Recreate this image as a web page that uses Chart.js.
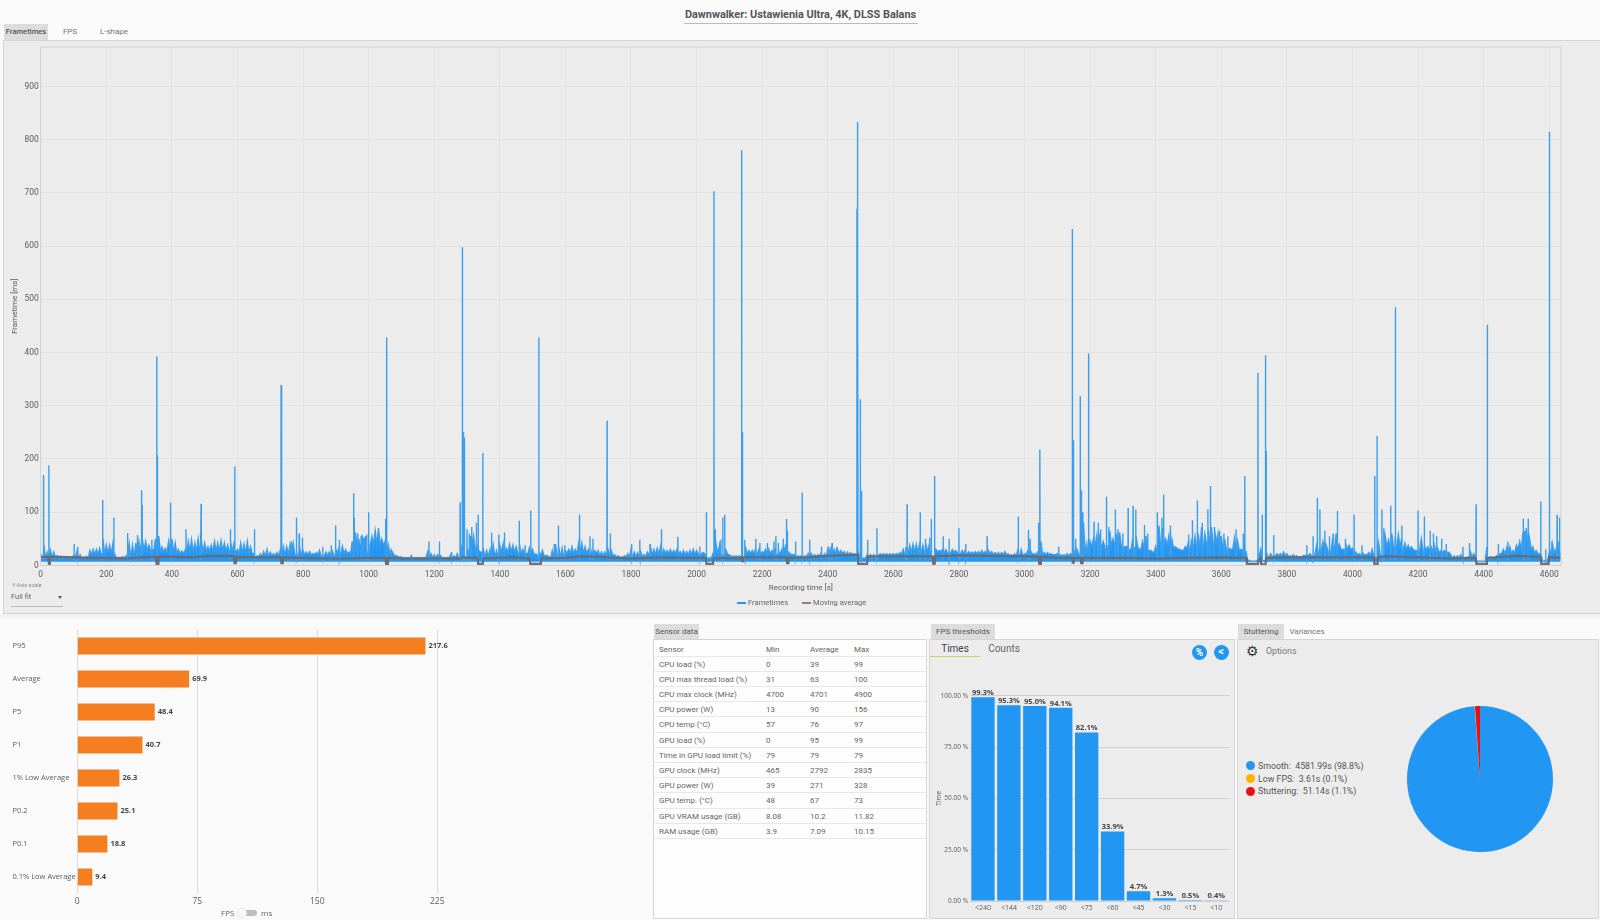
<!DOCTYPE html>
<html>
<head>
<meta charset="utf-8">
<title>Dawnwalker</title>
<script src="https://cdn.jsdelivr.net/npm/chart.js@4/dist/chart.umd.min.js"></script>
<style>
  html, body { margin: 0; padding: 0; }
  body { width: 1600px; height: 920px; overflow: hidden; position: relative; background: #fafafa; font-family: Roboto, sans-serif; color: #666; font-size: 8px; }
  .box { position: absolute; box-sizing: border-box; }
  .panel { background: #ececec; border: 1px solid #d4d4d4; }
  .tab { position: absolute; height: 15px; line-height: 15px; text-align: center; font-size: 8px; color: #777; }
  .tab.on { background: #dcdcdc; color: #555; }
  canvas { position: absolute; }
  .row { display: grid; grid-template-columns: 107px 44px 44px 1fr; height: 15.2px; line-height: 15px; box-sizing: border-box; border-bottom: 1px solid #e8e8e8; padding-left: 5px; }
</style>
</head>
<body>

<div class="box" style="left:0;top:8px;width:1601px;text-align:center;font-size:10.9px;font-weight:700;color:#555;line-height:14px">Dawnwalker: Ustawienia Ultra, 4K, DLSS Balans</div>
<div class="box" style="left:684px;top:22.5px;width:234px;height:1px;background:#bbb"></div>

<div class="tab on" style="left:4px;top:24px;width:44px;height:16px;line-height:16px;font-size:7.6px;font-weight:500">Frametimes</div>
<div class="tab" style="left:60px;top:24px;width:20px;height:16px;line-height:16px">FPS</div>
<div class="tab" style="left:98px;top:24px;width:32px;height:16px;line-height:16px">L-shape</div>

<div class="box panel" style="left:3px;top:40px;width:1600px;height:574px"></div>
<div class="box" style="left:0;top:614px;width:1600px;height:4px;background:#f1f1f1"></div>
<canvas id="frametimeChart" width="1600" height="574" style="left:0;top:40px"></canvas>
<div id="frametimeLegend"></div>

<div class="box" style="left:12px;top:582px;font-size:5.5px;color:#888">Y-Axis scale</div>
<div class="box" style="left:11px;top:592px;font-size:7.5px;color:#666">Full fit</div>
<div class="box" style="left:58px;top:596px;width:0;height:0;border-left:2.5px solid transparent;border-right:2.5px solid transparent;border-top:3px solid #555"></div>
<div class="box" style="left:11px;top:606px;width:52px;height:1px;background:#bbb"></div>

<canvas id="percentileChart" width="640" height="290" style="left:0;top:620px"></canvas>
<div class="box" style="left:221px;top:908px;font-size:8px;line-height:9px;font-family:'Open Sans',sans-serif">FPS</div>
<div class="box" style="left:243px;top:910px;width:14px;height:6px;border-radius:3px;background:#bdbdbd"></div>
<div class="box" style="left:237px;top:908px;width:10px;height:10px;border-radius:5px;background:#fafafa;border:1px solid #e4e4e4"></div>
<div class="box" style="left:261px;top:908px;font-size:8px;line-height:9px;font-family:'Open Sans',sans-serif">ms</div>

<div class="tab on" style="left:654px;top:624px;width:45px">Sensor data</div>
<div class="box" style="left:653px;top:639px;width:274px;height:280px;background:#fdfdfd;border:1px solid #d4d4d4"></div>
<div id="sensorTable" class="box" style="left:654px;top:641.5px;width:272px"></div>

<div class="tab on" style="left:931px;top:624px;width:64px">FPS thresholds</div>
<div class="box panel" style="left:929px;top:639px;width:306px;height:280px"></div>
<div class="box" style="left:930px;top:643px;width:50px;text-align:center;font-size:10px;line-height:12px;color:#444">Times</div>
<div class="box" style="left:980px;top:643px;width:48px;text-align:center;font-size:10px;line-height:12px;color:#666">Counts</div>
<div class="box" style="left:930px;top:655.5px;width:50px;height:1.5px;background:#c3d85f"></div>
<div class="box" style="left:1192px;top:644.5px;width:15px;height:15px;border-radius:8px;background:#2196f3;color:#fff;text-align:center;font-size:10px;line-height:15px;font-weight:700">%</div>
<div class="box" style="left:1213.5px;top:644.5px;width:15px;height:15px;border-radius:8px;background:#2196f3;color:#fff;text-align:center;font-size:11px;line-height:14px;font-weight:700">&lt;</div>
<canvas id="thresholdChart" width="304" height="258" style="left:930px;top:660px"></canvas>

<div class="tab on" style="left:1238px;top:624px;width:46px">Stuttering</div>
<div class="tab" style="left:1289px;top:624px;width:36px">Variances</div>
<div class="box panel" style="left:1237px;top:639px;width:362px;height:280px"></div>
<div class="box" style="left:1246px;top:643px;font-size:14px;line-height:16px;color:#333;font-family:'DejaVu Sans'">&#9881;</div>
<div class="box" style="left:1266px;top:645px;font-size:8.8px;line-height:12px;color:#777">Options</div>
<div id="stutterLegend" class="box" style="left:1246px;top:759.5px"></div>
<canvas id="stutterChart" width="148" height="148" style="left:1406px;top:705px"></canvas>

<script>
'use strict';

// ** FRAMETIME DATA **

const AXIS_SECONDS_MAX = 4636;
const AXIS_MS_MAX = 974;
const xTickSeconds = [0, 200, 400, 600, 800, 1000, 1200, 1400, 1600, 1800, 2000, 2200, 2400, 2600, 2800, 3000, 3200, 3400, 3600, 3800, 4000, 4200, 4400, 4600];
const BAND_FLOOR_MS = 7;

// tallest frametime in each 10 s of recording
const bandTopMs = [
  22, 42, 24, 28, 25, 18, 16, 15, 15, 16, 18, 25, 20, 15, 17, 28, 30, 30, 32, 50, 38, 38, 40, 15, 15, 16, 18,
  40, 38, 42, 45, 50, 45, 38, 30, 50, 55, 35, 32, 45, 50, 42, 30, 27, 28, 45, 48, 42, 50, 48, 42, 35, 38, 45, 42, 46, 42, 38, 45, 45,
  30, 42, 40, 45, 35, 22, 18, 22, 26, 30, 25, 22, 24, 28, 35, 35, 38, 42, 38, 35, 28, 25, 26, 22, 24, 28, 30, 25, 25, 26,
  32, 35, 36, 30, 25, 45, 62, 50, 58, 55, 62, 55, 65, 70, 50, 45, 38, 28, 18, 16, 16, 15, 15, 18, 15, 15, 15, 15, 25, 22, 20, 20, 18, 15, 15, 20, 18, 22,
  45, 60, 55, 55, 55, 45, 25, 30, 28, 30, 38, 28, 38, 40, 32, 40, 38, 35, 42, 30, 22, 32, 30, 22, 25, 28, 18, 16, 28, 40, 38, 32, 28, 30, 35, 30, 40, 42, 35, 30, 25, 28, 28, 25, 25, 30, 28, 20, 18, 16, 18, 22, 30, 25, 24, 25, 20, 25,
  35, 30, 32, 35, 30, 28, 30, 28, 30, 26, 28, 26, 28, 30, 28, 32, 24, 14, 14, 22, 38, 38, 40, 28, 20, 18, 18, 18, 45, 32, 28, 28, 32, 30, 26, 30, 30, 28, 32, 28, 30, 35, 25, 20, 20, 18, 18, 18, 22, 22, 20, 20, 24, 22,
  30, 32, 30, 30, 28, 26, 25, 24, 22, 30, 20, 14, 20, 20, 20, 24, 22, 22, 22, 22, 22, 22, 24, 30, 35, 38, 40, 40, 40, 38, 38, 40, 16, 30, 28, 30, 30, 28, 30,
  28, 32, 28, 30, 26, 25, 26, 26, 28, 26, 28, 26, 24, 24, 24, 26, 22, 20, 22, 30, 30, 22, 28, 26, 22, 25, 45, 24, 24, 22, 20, 22, 20, 20, 22, 22, 30, 30, 35, 80,
  40, 45, 50, 55, 60, 45, 60, 65, 50, 60, 62, 55, 35, 30, 50, 58, 30, 45, 55, 28, 25, 35, 75, 70, 50, 55, 48, 35, 30, 28, 35, 45, 50, 55, 60, 72, 60, 68, 72, 68, 60, 55, 50, 35, 30, 50, 45, 30, 45, 10, 8, 8, 10, 30, 8,
  20, 22, 30, 22, 22, 25, 22, 18, 20, 18, 16, 18, 20, 22, 30, 35, 32, 45, 38, 50, 52, 60, 40, 30, 42, 38, 32, 25, 22, 25, 20, 24, 30, 15, 42, 60, 55, 48, 60, 55, 58, 50, 42, 38, 35, 28, 60, 50, 38, 35, 35, 38, 32, 28, 28, 25, 20, 18, 18, 20, 15, 16, 25, 22, 8, 8, 8, 35, 16, 15, 18, 22, 30, 32, 35, 28, 38, 45, 62, 70, 50, 35, 28, 22, 8, 8, 25, 40, 30, 45
];

// height of the solid part of the band, per 50 s of recording
const bandCoreMs = [
  14, 13, 13, 20, 22, 14, 28, 25, 22, 25, 26, 26, 22, 16, 18, 20, 20, 18, 22, 30, 38, 22, 14, 14, 14, 14, 30, 16, 24, 22, 18,
  14, 22, 22, 18, 15, 16, 20, 22, 20, 22, 20, 16, 22, 22, 22, 16, 16, 22, 20, 13, 19, 20, 24, 26, 24, 22, 22, 20, 18, 20, 20,
  18, 22, 35, 38, 35, 32, 38, 32, 30, 42, 32, 28, 10, 18, 16, 18, 28, 30, 20, 18, 35, 30, 28, 24, 14, 16, 14, 22, 30, 22, 24
];

// single frame spikes standing above the band
const spikeSeconds = [
  8, 25, 102, 113, 189, 223, 265, 295, 307, 309, 339, 354, 356, 396, 443, 487, 489, 578, 592, 652, 733, 735, 764, 780, 788, 798, 860, 886, 899, 911,
  954, 956, 967, 977, 984, 994, 1000, 1052, 1055, 1068, 1131, 1184, 1216, 1253, 1279, 1286, 1289, 1292, 1300, 1307, 1314, 1328, 1334, 1348, 1375, 1397, 1414, 1459, 1477, 1494, 1519, 1566, 1578, 1598, 1642, 1644, 1675, 1684, 1727, 1737, 1802, 1827, 1858,
  1893, 1943, 2010, 2030, 2053, 2057, 2074, 2080, 2086, 2137, 2138, 2140, 2147, 2181, 2193, 2216, 2236, 2242, 2249, 2264, 2274, 2277, 2302, 2322, 2345, 2381, 2403, 2413, 2427, 2489, 2491, 2492, 2499, 2503, 2522, 2550, 2638, 2642, 2682, 2698, 2711, 2716, 2726, 2752, 2770,
  2800, 2821, 2886, 2981, 3012, 3017, 3043, 3047, 3104, 3146, 3149, 3156, 3170, 3173, 3178, 3195, 3196, 3212, 3225, 3232, 3250, 3257, 3277, 3285, 3300, 3316, 3331, 3339, 3366, 3376, 3405, 3419, 3424, 3445, 3501, 3512, 3527, 3542, 3559, 3567, 3579, 3595, 3608, 3620, 3645, 3667, 3672, 3712, 3725, 3735, 3737,
  3760, 3861, 3880, 3893, 3901, 3916, 3930, 3941, 3954, 3978, 4005, 4029, 4068, 4075, 4090, 4096, 4117, 4130, 4132, 4151, 4200, 4219, 4237, 4247, 4257, 4272, 4286, 4337, 4357, 4377, 4411, 4412, 4445, 4474, 4521, 4536, 4525, 4574, 4589, 4601, 4608, 4624, 4632
];
const spikeMs = [
  170, 188, 40, 35, 123, 90, 61, 57, 141, 113, 48, 393, 207, 118, 68, 60, 116, 68, 186, 68, 339, 130, 45, 90, 60, 52, 35, 38, 75, 48,
  136, 90, 60, 55, 52, 58, 100, 88, 428, 30, 20, 45, 45, 25, 118, 598, 250, 240, 68, 60, 72, 80, 95, 211, 62, 58, 62, 84, 38, 103, 428, 40, 75, 38, 95, 70, 55, 50, 272, 60, 40, 48, 40,
  68, 54, 35, 100, 703, 68, 48, 90, 95, 780, 485, 250, 48, 50, 42, 42, 45, 55, 42, 50, 87, 65, 45, 137, 48, 35, 35, 42, 35, 670, 833, 500, 312, 140, 48, 70, 35, 115, 100, 50, 52, 87, 168, 55, 50,
  70, 40, 55, 92, 67, 50, 80, 218, 35, 632, 235, 50, 318, 141, 100, 398, 115, 82, 80, 68, 129, 72, 105, 68, 60, 108, 112, 105, 76, 60, 100, 90, 133, 75, 58, 85, 122, 80, 105, 149, 72, 65, 60, 55, 68, 60, 168, 362, 95, 395, 215,
  57, 38, 55, 127, 105, 65, 55, 60, 102, 50, 95, 38, 168, 243, 105, 70, 112, 485, 150, 75, 103, 92, 65, 60, 55, 50, 40, 35, 42, 115, 452, 120, 40, 45, 88, 88, 65, 120, 30, 815, 45, 95, 90
];

// moving average, with its short dips at the big stalls
const averageSeconds = [
  0, 24, 25, 27, 28, 60, 100, 150, 200, 264, 300, 352, 353, 358, 359, 400, 450, 500, 550, 590, 591, 594, 595, 650, 700, 733, 734, 738, 739, 800, 860, 930, 1000, 1052, 1053, 1058, 1059, 1100, 1200, 1280, 1290, 1300, 1332, 1334, 1348, 1350, 1400, 1450, 1491, 1493, 1525, 1527, 1600, 1650, 1700, 1800,
  1900, 1960, 2028, 2030, 2050, 2052, 2091, 2130, 2137, 2139, 2141, 2200, 2275, 2276, 2279, 2280, 2340, 2400, 2450, 2491, 2493, 2520, 2523, 2600, 2680, 2720, 2722, 2726, 2728, 2800, 2900, 3000, 3043, 3045, 3048, 3050, 3100, 3146, 3147, 3150, 3151, 3172, 3173, 3176, 3177, 3300, 3400, 3500, 3600, 3660, 3676, 3678, 3712, 3714, 3720, 3722, 3735, 3737,
  3800, 3900, 4000, 4066, 4067, 4075, 4077, 4100, 4200, 4300, 4376, 4378, 4408, 4410, 4500, 4574, 4576, 4598, 4600, 4636
];
const averageMs = [
  16, 16, 3, 3, 16, 16, 15, 14, 14, 13, 15, 16, 2, 2, 16, 16, 15, 17, 18, 17, 4, 4, 16, 15, 15, 15, 4, 4, 15, 14, 13, 13, 14, 14, 3, 3, 14, 13, 13, 13, 16, 14, 14, 3, 3, 13, 14, 15, 13, 3, 3, 13, 14, 17, 16, 13,
  15, 14, 14, 3, 3, 13, 14, 13, 15, 8, 15, 15, 15, 4, 4, 14, 15, 18, 19, 20, 3, 3, 17, 17, 17, 17, 3, 3, 17, 19, 18, 17, 16, 3, 3, 16, 14, 14, 5, 5, 14, 14, 4, 4, 14, 14, 13, 14, 15, 14, 14, 3, 3, 10, 14, 2, 2, 14,
  15, 15, 15, 15, 3, 3, 15, 17, 15, 13, 14, 3, 3, 14, 18, 16, 3, 3, 16, 14
];

// ** PERCENTILES **

const percentileLabels = ['P95', 'Average', 'P5', 'P1', '1% Low Average', 'P0.2', 'P0.1', '0.1% Low Average'];
const percentileValues = [217.6, 69.9, 48.4, 40.7, 26.3, 25.1, 18.8, 9.4];

// ** SENSORS **

const sensorNames = [
  'CPU load (%)', 'CPU max thread load (%)', 'CPU max clock (MHz)', 'CPU power (W)', 'CPU temp (°C)', 'GPU load (%)',
  'Time in GPU load limit (%)', 'GPU clock (MHz)', 'GPU power (W)', 'GPU temp. (°C)', 'GPU VRAM usage (GB)', 'RAM usage (GB)'
];
const sensorMin = ['0', '31', '4700', '13', '57', '0', '79', '465', '39', '48', '8.08', '3.9'];
const sensorAverage = ['39', '63', '4701', '90', '76', '95', '79', '2792', '271', '67', '10.2', '7.09'];
const sensorMax = ['99', '100', '4900', '156', '97', '99', '79', '2835', '328', '73', '11.82', '10.15'];

// ** FPS THRESHOLDS **

const thresholdLabels = ['<240', '<144', '<120', '<90', '<75', '<60', '<45', '<30', '<15', '<10'];
const thresholdValues = [99.3, 95.3, 95.0, 94.1, 82.1, 33.9, 4.7, 1.3, 0.5, 0.4];

// ** STUTTERING **

const stutterLabels = ['Smooth', 'Low FPS', 'Stuttering'];
const stutterSeconds = [4581.99, 3.61, 51.14];
const stutterShares = [98.8, 0.1, 1.1];
const stutterColors = ['#2196f3', '#ffb300', '#e8101a'];

// ** HELPERS **

// zig-zag between band top and solid core, then the spikes dropped in where they belong
function buildFrametimePoints() {
  let points = [];
  for (let i = 0; i < bandTopMs.length; i++) {
    let core = bandCoreMs[Math.floor(i / 5)];
    points.push({ x: i * 10, y: bandTopMs[i] });
    points.push({ x: i * 10 + 5, y: Math.min(core, bandTopMs[i]) });
  }
  for (let i = 0; i < spikeSeconds.length; i++) {
    points.push({ x: spikeSeconds[i] - 0.4, y: 10 });
    points.push({ x: spikeSeconds[i], y: spikeMs[i] });
    points.push({ x: spikeSeconds[i] + 0.4, y: 10 });
  }
  points.sort((a, b) => a.x - b.x);
  return points;
}

function zipPoints(xs, ys) {
  return xs.map((x, i) => ({ x: x, y: ys[i] }));
}

// frame round the plot area of the frametime chart
const plotFrame = {
  id: 'plotFrame',
  afterDraw(chart) {
    let area = chart.chartArea;
    chart.ctx.save();
    chart.ctx.strokeStyle = '#d2d2d2';
    chart.ctx.lineWidth = 1;
    chart.ctx.strokeRect(area.left, area.top, area.right - area.left, area.bottom - area.top);
    chart.ctx.restore();
  }
};

// bold value printed next to each bar
const barValueLabels = {
  id: 'barValueLabels',
  afterDatasetsDraw(chart) {
    let ctx = chart.ctx;
    let horizontal = chart.options.indexAxis === 'y';
    let values = chart.data.datasets[0].data;
    ctx.save();
    ctx.fillStyle = '#444';
    ctx.font = "700 7.5px 'Open Sans', sans-serif";
    chart.getDatasetMeta(0).data.forEach((bar, i) => {
      if (horizontal) {
        ctx.textAlign = 'left';
        ctx.textBaseline = 'middle';
        ctx.fillText(values[i].toFixed(1), bar.x + 3, bar.y);
      } else {
        ctx.textAlign = 'center';
        ctx.textBaseline = 'bottom';
        ctx.fillText(values[i].toFixed(1) + '%', bar.x, bar.y - 0.5);
      }
    });
    ctx.restore();
  }
};

// ** CHARTS **

Chart.defaults.animation = false;
Chart.defaults.responsive = false;
Chart.defaults.plugins.tooltip.enabled = false;
Chart.defaults.color = '#5c5c5c';

function renderFrametimeChart() {
  new Chart(document.getElementById('frametimeChart'), {
    type: 'line',
    data: {
      datasets: [{
        label: 'Frametimes',
        data: buildFrametimePoints(),
        borderColor: '#3a9eee',
        backgroundColor: '#2196f3',
        borderWidth: 1.4,
        pointRadius: 0,
        tension: 0,
        fill: { value: BAND_FLOOR_MS },
        order: 2
      }, {
        label: 'Moving average',
        data: zipPoints(averageSeconds, averageMs),
        borderColor: '#6b6b70',
        backgroundColor: '#8d7f7a',
        borderWidth: 2.2,
        pointRadius: 0,
        tension: 0,
        order: 1
      }]
    },
    options: {
      layout: { padding: { top: 6.3, right: 39, left: 0, bottom: 21.6 } },
      scales: {
        x: {
          type: 'linear',
          min: 0,
          max: AXIS_SECONDS_MAX,
          afterFit(scale) { scale.height = 27; },
          afterBuildTicks(scale) { scale.ticks = xTickSeconds.map((value) => ({ value: value })); },
          grid: { color: '#e3e3e3', drawTicks: false },
          border: { display: false },
          ticks: { autoSkip: false, maxRotation: 0, padding: 4, font: { family: 'Roboto', size: 8.4 }, callback: (value) => String(value) },
          title: { display: true, text: 'Recording time [s]', font: { family: 'Roboto', size: 8 }, padding: { top: 2, bottom: 0 } }
        },
        y: {
          type: 'linear',
          min: 0,
          max: AXIS_MS_MAX,
          afterFit(scale) { scale.width = 40.7; },
          grid: { color: '#e3e3e3', drawTicks: false },
          border: { display: false },
          ticks: { stepSize: 100, includeBounds: false, padding: 2, font: { family: 'Roboto', size: 8.4 } },
          title: { display: true, text: 'Frametime [ms]', font: { family: 'Roboto', size: 8 }, padding: { top: 10, bottom: 0 } }
        }
      },
      plugins: { legend: { display: false } }
    },
    plugins: [plotFrame]
  });
}

function renderPercentileChart() {
  new Chart(document.getElementById('percentileChart'), {
    type: 'bar',
    data: {
      labels: percentileLabels,
      datasets: [{ data: percentileValues, backgroundColor: '#f47e20', categoryPercentage: 1, barPercentage: 0.52 }]
    },
    options: {
      indexAxis: 'y',
      layout: { padding: { top: 9.5, right: 202.7, left: 12.5, bottom: 0 } },
      scales: {
        x: {
          min: 0,
          max: 225,
          afterFit(scale) { scale.height = 16.5; },
          grid: { color: '#dcdcdc', drawTicks: false },
          border: { display: false },
          ticks: { stepSize: 75, padding: 3, font: { family: "'Open Sans'", size: 8.5 } }
        },
        y: {
          afterFit(scale) { scale.width = 64.8; },
          grid: { display: false, drawTicks: false },
          border: { color: '#dcdcdc' },
          ticks: { crossAlign: 'far', padding: 0, font: { family: "'Open Sans'", size: 7.5 } }
        }
      },
      plugins: { legend: { display: false } }
    },
    plugins: [barValueLabels]
  });
}

function renderThresholdChart() {
  new Chart(document.getElementById('thresholdChart'), {
    type: 'bar',
    data: {
      labels: thresholdLabels,
      datasets: [{ data: thresholdValues, backgroundColor: '#2196f3', categoryPercentage: 1, barPercentage: 0.9 }]
    },
    options: {
      layout: { padding: { top: 35.7, right: 4.7, left: 0, bottom: 0 } },
      scales: {
        x: {
          afterFit(scale) { scale.height = 17; },
          grid: { display: false, drawTicks: false },
          border: { display: false },
          ticks: { maxRotation: 0, padding: 3, font: { family: "'Open Sans'", size: 7 } }
        },
        y: {
          min: 0,
          max: 100,
          afterFit(scale) { scale.width = 40; },
          grid: { color: '#cfcfcf', drawTicks: false },
          border: { display: false },
          ticks: {
            stepSize: 25,
            padding: 2,
            font: { family: "'Open Sans'", size: 6.5 },
            callback: (value) => value.toFixed(2) + ' %'
          },
          title: { display: true, text: 'Time', font: { family: "'Open Sans'", size: 6.5 }, padding: { top: 5, bottom: 0 } }
        }
      },
      plugins: { legend: { display: false } }
    },
    plugins: [barValueLabels]
  });
}

function renderStutterChart() {
  new Chart(document.getElementById('stutterChart'), {
    type: 'pie',
    data: {
      labels: stutterLabels,
      datasets: [{ data: stutterSeconds, backgroundColor: stutterColors, borderWidth: 0 }]
    },
    options: {
      layout: { padding: 1 },
      plugins: { legend: { display: false } }
    }
  });
}

// ** HTML PARTS **

function addLegendItem(left, color, text) {
  let swatch = document.createElement('div');
  swatch.className = 'box';
  swatch.style.cssText = 'left:' + left + 'px;top:601.5px;width:9px;height:2px;background:' + color;
  let label = document.createElement('div');
  label.className = 'box';
  label.style.cssText = 'left:' + (left + 11) + 'px;top:597px;font-size:7.6px;line-height:11px;white-space:nowrap';
  label.textContent = text;
  document.getElementById('frametimeLegend').append(swatch, label);
}

function renderSensorTable() {
  let table = document.getElementById('sensorTable');
  let rows = [['Sensor', 'Min', 'Average', 'Max']];
  for (let i = 0; i < sensorNames.length; i++) {
    rows.push([sensorNames[i], sensorMin[i], sensorAverage[i], sensorMax[i]]);
  }
  for (let i = 0; i < rows.length; i++) {
    let row = document.createElement('div');
    row.className = 'row';
    rows[i].forEach((text) => {
      let cell = document.createElement('div');
      cell.textContent = text;
      row.appendChild(cell);
    });
    table.appendChild(row);
  }
}

function renderStutterLegend() {
  let legend = document.getElementById('stutterLegend');
  for (let i = 0; i < stutterLabels.length; i++) {
    let line = document.createElement('div');
    line.style.cssText = 'display:flex;align-items:center;height:12.8px;font-size:8.8px;color:#555;white-space:pre';
    let dot = document.createElement('span');
    dot.style.cssText = 'width:9px;height:9px;border-radius:5px;margin-right:3px;background:' + stutterColors[i];
    line.appendChild(dot);
    line.appendChild(document.createTextNode(stutterLabels[i] + ':  ' + stutterSeconds[i] + 's (' + stutterShares[i] + '%)'));
    legend.appendChild(line);
  }
}

renderFrametimeChart();
renderPercentileChart();
renderThresholdChart();
renderStutterChart();
addLegendItem(737, '#2196f3', 'Frametimes');
addLegendItem(802, '#8d7f7a', 'Moving average');
renderSensorTable();
renderStutterLegend();
</script>
</body>
</html>
